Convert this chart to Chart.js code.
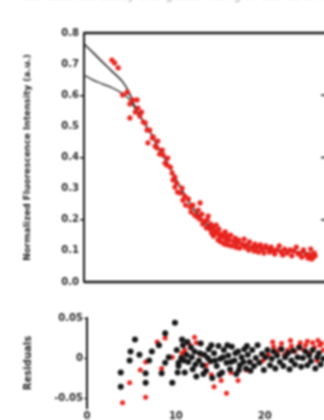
<!DOCTYPE html>
<html>
<head>
<meta charset="utf-8">
<script src="https://cdn.jsdelivr.net/npm/chart.js@4.4.1/dist/chart.umd.min.js"></script>
<style>
  html, body { margin: 0; padding: 0; background: #fff; overflow: hidden; }
  #wrap { position: relative; width: 324px; height: 420px; overflow: hidden; }
  canvas { position: absolute; left: 0; filter: blur(0.8px); }
  #c-top { top: 0; }
  #c-res { top: 290px; }
  #cut { position: absolute; top: -12px; left: 16px; font: 12px "DejaVu Sans"; color: #aaa; white-space: nowrap; filter: blur(0.8px); }
</style>
</head>
<body>
<div id="wrap">
  <div id="cut">Fluorescence decay and global fitting of the labelled sample</div>
  <canvas id="c-top" width="340" height="290"></canvas>
  <canvas id="c-res" width="340" height="130"></canvas>
</div>
<script>
// ------------------------------------------------------------
// data (time in ns, intensity normalised)
// ------------------------------------------------------------
const X_MAX = 26.9;
const yTicksTop = [0, 0.1, 0.2, 0.3, 0.4, 0.5, 0.6, 0.7, 0.8];
const yMajorTop = [0.2, 0.4, 0.6];
const yTicksRes = [-0.05, 0, 0.05];
const xTicks = [0, 10, 20];

// measured decay (red)
const decayRed = [
  [3.1,0.713],[3.4,0.704],[3.8,0.688],[4.3,0.601],[4.8,0.610],[5.1,0.572],[5.1,0.527],[5.4,0.585],
  [5.7,0.546],[5.9,0.585],[6.0,0.559],[6.2,0.533],[6.4,0.546],[6.6,0.514],[6.8,0.511],[7.0,0.488],
  [7.1,0.447],[7.3,0.488],[7.6,0.463],[7.7,0.466],[7.9,0.437],[8.1,0.431],[8.2,0.453],[8.4,0.411],
  [8.7,0.424],[8.8,0.408],[9.0,0.382],[9.2,0.376],[9.3,0.398],[9.6,0.369],[9.8,0.350],[9.9,0.328],
  [10.1,0.337],[10.1,0.305],[10.3,0.318],[10.4,0.289],[10.7,0.286],[10.9,0.302],[11.0,0.263],[11.2,0.276],
  [11.3,0.247],[11.6,0.267],[11.8,0.241],[11.9,0.225],[12.1,0.247],[12.3,0.215],[12.6,0.209],[12.7,0.231],
  [12.9,0.254],[12.9,0.202],[13.1,0.218],[13.2,0.186],[13.4,0.196],[13.6,0.174],[13.7,0.199],[13.8,0.212],
  [14.0,0.170],[14.1,0.186],[14.2,0.157],[14.3,0.177],[14.4,0.148],[14.6,0.164],[14.7,0.183],[14.8,0.157],
  [14.9,0.135],[15.0,0.170],[15.1,0.145],[15.2,0.129],[15.3,0.154],[15.4,0.145],[15.6,0.122],[15.7,0.161],
  [15.8,0.135],[15.9,0.148],[16.0,0.119],[16.2,0.135],[16.3,0.151],[16.4,0.116],[16.7,0.129],[16.8,0.141],
  [16.9,0.112],[17.0,0.125],[17.2,0.135],[17.3,0.109],[17.6,0.122],[17.8,0.138],[17.9,0.112],[18.1,0.119],
  [18.3,0.103],[18.4,0.129],[18.7,0.112],[18.9,0.100],[19.0,0.122],[19.2,0.112],[19.4,0.096],[19.6,0.119],
  [19.8,0.106],[20.0,0.093],[20.2,0.116],[20.3,0.109],[20.6,0.096],[20.8,0.112],[21.0,0.100],[21.2,0.090],
  [21.4,0.103],[21.7,0.116],[21.9,0.096],[22.1,0.087],[22.3,0.106],[22.6,0.093],[22.9,0.103],[23.1,0.084],
  [23.3,0.100],[23.6,0.112],[23.8,0.090],[24.0,0.093],[24.2,0.080],[24.4,0.103],[24.7,0.087],[24.9,0.077],
  [25.1,0.087],[25.2,0.106],[25.3,0.074],[25.4,0.077],[25.6,0.093],[25.7,0.084]
];

// fitted curves (black)
const fitA = [
  [0,0.765],[1.0,0.737],[2.0,0.708],[3.0,0.680],[4.3,0.643],[5.0,0.610],[5.7,0.560],[6.4,0.525],
  [7.0,0.497],[7.6,0.469],[8.4,0.424],[9.3,0.382],[10.1,0.337],[11.0,0.290],[11.8,0.251],[12.6,0.220],
  [13.5,0.190],[14.5,0.165],[15.5,0.145],[16.5,0.132],[17.5,0.122],[18.5,0.115],[19.6,0.109],[21.0,0.104],
  [22.5,0.100],[24.0,0.096],[25.7,0.090]
];
const fitB = [
  [0,0.665],[1.0,0.649],[2.0,0.637],[3.2,0.623],[4.2,0.607],[4.8,0.594],[5.4,0.572],[6.0,0.540],[6.4,0.525]
];

// residuals
const resBlack = [
  [3.8,-0.036],[3.8,-0.018],[4.8,-0.003],[4.9,0.008],[5.4,0.023],[5.9,0.004],[6.6,-0.031],[6.6,-0.019],
  [7.0,-0.003],[8.1,0.016],[8.8,0.031],[9.9,0.044],[9.2,0.001],[8.4,-0.019],[9.6,-0.031],[10.7,0.023],
  [10.3,-0.006],[8.8,-0.006],[7.3,0.008],
  [10.1,0.010],[10.3,-0.010],[10.6,0.000],[10.8,0.016],[11.0,-0.018],[11.2,0.004],[11.4,-0.005],[11.7,0.013],
  [11.9,-0.014],[12.1,0.008],[12.3,-0.023],[12.6,-0.003],[12.8,0.018],[13.0,-0.009],[13.2,0.004],[13.4,-0.016],
  [13.7,0.011],[13.9,-0.004],[14.1,-0.025],[14.3,0.006],[14.6,-0.010],[14.8,0.015],[15.0,-0.001],[15.2,-0.018],
  [15.4,0.010],[15.7,-0.006],[15.9,0.003],[16.1,-0.014],[16.3,0.014],[16.6,-0.003],[16.8,-0.020],[17.0,0.008],
  [17.2,-0.009],[17.4,0.001],[17.7,0.011],[17.9,-0.013],[18.1,0.004],[18.3,-0.005],[18.6,0.010],[18.8,-0.010],
  [19.0,0.000],[19.2,0.016],[19.4,-0.006],[19.7,0.005],[19.9,-0.015],[20.1,0.001],[20.3,0.010],[20.6,-0.009],
  [20.8,-0.001],[21.0,0.008],[21.2,-0.013],[21.4,0.003],[21.7,-0.005],[21.9,0.011],[22.1,-0.010],[22.3,0.001],
  [22.6,0.006],[22.8,-0.014],[23.0,-0.003],[23.2,0.009],[23.4,-0.008],[23.7,0.001],[23.9,0.013],[24.1,-0.011],
  [24.3,0.000],[24.6,0.008],[24.8,-0.009],[25.0,0.003],[25.2,-0.004],[25.4,0.010],[25.7,-0.013],[25.9,0.001],
  [26.1,0.006],[26.3,-0.008],[26.6,-0.001],
  [10.2,-0.018],[10.9,-0.003],[11.3,0.020],[11.8,0.001],[12.2,-0.008],[12.7,0.006],[13.1,-0.020],[13.6,0.000],
  [14.0,0.016],[14.4,-0.003],[14.9,-0.021],[15.3,0.001],[15.8,0.016],[16.2,-0.005],[16.7,0.006],[17.1,-0.015],
  [17.6,-0.005],[18.0,0.015],[18.4,-0.016]
];
const resRed = [
  [7.9,0.020],[8.8,0.025],[6.6,-0.005],[6.0,-0.015],[4.8,-0.031],[4.0,-0.056],[6.6,-0.049],[8.4,-0.013],
  [9.6,0.001],[11.0,0.010],[12.3,0.019],[12.1,0.026],[10.7,0.006],[14.3,-0.036],[15.7,-0.044],[17.0,-0.028],
  [14.0,-0.021],[15.1,-0.028],[16.2,-0.018],[21.0,0.014],[22.6,0.010],[24.0,0.019],[25.4,0.019],[25.9,-0.003],
  [21.4,0.008],[21.9,0.018],[22.2,0.004],[23.0,0.015],[23.4,0.008],[24.4,0.010],[24.8,0.021],[25.1,0.006],
  [26.2,0.016],[26.6,0.010],[20.4,0.004],[19.8,-0.003],[18.4,-0.005],[17.9,-0.015],[13.4,-0.009],[12.9,0.004],
  [11.6,0.016],[20.9,0.020],[21.7,0.012],[22.9,0.022],[23.8,0.014],[24.6,0.016],[25.6,0.013],[26.0,0.022],[26.4,0.018]
];

// ------------------------------------------------------------
// helpers
// ------------------------------------------------------------
const RED = '#e8221c';
const INK = '#151515';
const FONT = { family: 'DejaVu Sans', size: 10, weight: 'bold' };
const pts = arr => arr.map(p => ({ x: p[0], y: p[1] }));

// top/bottom frame lines and inward ticks on the (cut off) right edge
const framePlugin = {
  id: 'frame',
  afterDatasetsDraw(chart, args, opts) {
    if (!opts.on) return;
    const { ctx, chartArea: a, scales } = chart;
    ctx.save();
    ctx.strokeStyle = INK;
    ctx.lineWidth = 2.5;
    ctx.beginPath();
    ctx.moveTo(a.left, a.top); ctx.lineTo(a.right, a.top);
    ctx.moveTo(a.left, a.bottom); ctx.lineTo(a.right, a.bottom);
    ctx.stroke();
    ctx.lineWidth = 1.5;
    ctx.beginPath();
    yMajorTop.forEach(v => {
      const y = scales.y.getPixelForValue(v);
      ctx.moveTo(a.right - 5, y); ctx.lineTo(a.right, y);
    });
    ctx.stroke();
    ctx.restore();
  }
};

function fixTicks(list) {
  return scale => { scale.ticks = list.map(v => ({ value: v })); };
}

// ------------------------------------------------------------
// top panel: decay + fits
// ------------------------------------------------------------
new Chart(document.getElementById('c-top'), {
  type: 'scatter',
  data: {
    datasets: [
      { data: pts(decayRed), backgroundColor: RED, borderWidth: 0, pointRadius: 2.6 },
      { data: pts(fitA), type: 'line', borderColor: '#262626', borderWidth: 1.6, pointRadius: 0, cubicInterpolationMode: 'monotone' },
      { data: pts(fitB), type: 'line', borderColor: '#3a3a3a', borderWidth: 1.4, pointRadius: 0, cubicInterpolationMode: 'monotone' },
    ],
  },
  plugins: [framePlugin],
  options: {
    responsive: false,
    animation: false,
    layout: { padding: { top: 33, right: 14, bottom: 8, left: 0 } },
    plugins: { legend: { display: false }, tooltip: { enabled: false }, frame: { on: true } },
    scales: {
      x: { type: 'linear', min: 0, max: X_MAX, display: false },
      y: {
        min: 0, max: 0.8,
        afterBuildTicks: fixTicks(yTicksTop),
        afterFit: s => { s.width = 84; },
        border: { display: true, color: INK, width: 2 },
        grid: {
          drawOnChartArea: false, tickLength: 4, lineWidth: 1.5,
          color: c => (c.tick && yMajorTop.includes(c.tick.value)) ? INK : 'rgba(0,0,0,0)',
        },
        ticks: { color: '#2a2a2a', font: FONT, padding: 1, callback: v => v.toFixed(1) },
        title: {
          display: true, text: 'Normalized Fluorescence Intensity (a.u.)',
          color: '#222', font: { family: 'DejaVu Sans', size: 9, weight: 'bold' }, padding: { top: 22, bottom: 0 },
        },
      },
    },
  },
});

// ------------------------------------------------------------
// bottom panel: residuals
// ------------------------------------------------------------
new Chart(document.getElementById('c-res'), {
  type: 'scatter',
  data: {
    datasets: [
      { data: pts(resBlack), backgroundColor: INK, borderWidth: 0, pointRadius: 3 },
      { data: pts(resRed), backgroundColor: RED, borderWidth: 0, pointRadius: 2.5 },
    ],
  },
  options: {
    responsive: false,
    animation: false,
    layout: { padding: { top: 28, right: 14, bottom: 0, left: 0 } },
    plugins: { legend: { display: false }, tooltip: { enabled: false } },
    scales: {
      x: {
        type: 'linear', min: 0, max: X_MAX,
        afterBuildTicks: fixTicks(xTicks),
        afterFit: s => { s.height = 12; },
        border: { display: false },
        grid: { display: false, drawTicks: false },
        ticks: { color: '#2a2a2a', font: FONT, padding: 2 },
      },
      y: {
        min: -0.0625, max: 0.05,
        afterBuildTicks: fixTicks(yTicksRes),
        afterFit: s => { s.width = 87; },
        border: { display: true, color: INK, width: 2 },
        grid: { drawOnChartArea: false, tickLength: 3, color: INK },
        ticks: { color: '#2a2a2a', font: FONT, padding: 1, callback: v => v === 0 ? '0' : v.toFixed(2) },
        title: {
          display: true, text: 'Residuals',
          color: '#222', font: FONT, padding: { top: 22, bottom: 0 },
        },
      },
    },
  },
});
</script>
</body>
</html>
